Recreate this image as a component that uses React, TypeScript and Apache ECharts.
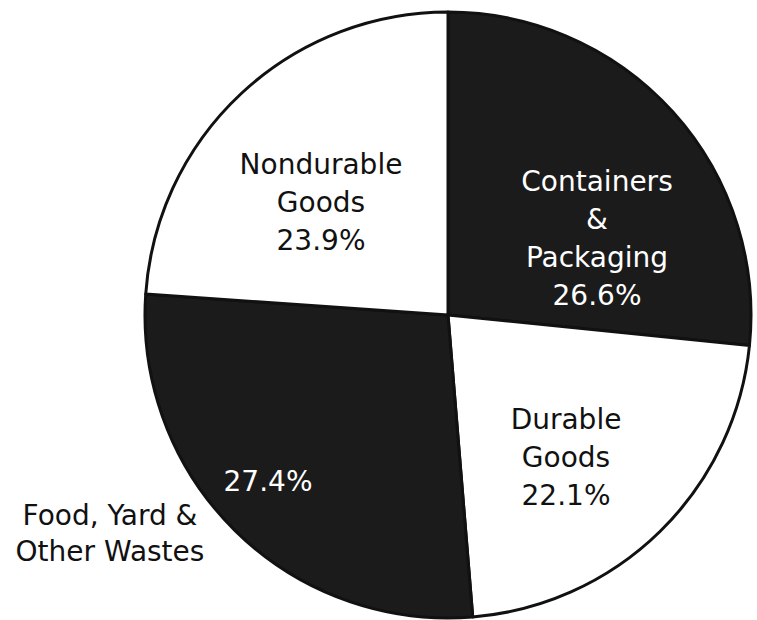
import React, { useEffect, useRef } from "react";
import * as echarts from "echarts";

const categories = [
  "Containers\n&\nPackaging",
  "Durable\nGoods",
  "Food, Yard &\nOther Wastes",
  "Nondurable\nGoods",
];
const values = [26.6, 22.1, 27.4, 23.9];
const sliceColors = ["#1b1b1b", "#ffffff", "#1b1b1b", "#ffffff"];
const labelColors = ["#ffffff", "#111111", "#ffffff", "#111111"];
// label anchor points (layout only)
const labelPos: [number, number][] = [
  [597, 238],
  [566, 457],
  [268, 481],
  [321, 202],
];
const outsideIndex = 2;

export default function App() {
  const ref = useRef<HTMLDivElement>(null);
  useEffect(() => {
    if (!ref.current) return;
    const chart = echarts.init(ref.current, null, { renderer: "svg" });
    const font = "'DejaVu Sans', 'Noto Sans', sans-serif";
    chart.setOption({
      animation: false,
      backgroundColor: "#ffffff",
      graphic: [
        {
          type: "text",
          x: 110,
          y: 533,
          style: {
            text: categories[outsideIndex],
            fill: "#111111",
            fontSize: 28,
            fontFamily: font,
            lineHeight: 36,
            align: "center",
            verticalAlign: "middle",
          },
        },
      ],
      series: [
        {
          type: "pie",
          center: [448, 315],
          radius: [0, 303],
          startAngle: 90,
          clockwise: true,
          avoidLabelOverlap: false,
          silent: true,
          itemStyle: { borderColor: "#111111", borderWidth: 3 },
          labelLine: { show: false },
          label: {
            show: true,
            position: "inside",
            fontFamily: font,
            fontSize: 28,
            lineHeight: 38,
            align: "center",
            formatter: (p: any) =>
              p.dataIndex === outsideIndex
                ? `${values[p.dataIndex].toFixed(1)}%`
                : `${categories[p.dataIndex]}\n${values[p.dataIndex].toFixed(1)}%`,
          },
          labelLayout: (p: any) => ({
            x: labelPos[p.dataIndex][0],
            y: labelPos[p.dataIndex][1],
            align: "center",
            verticalAlign: "middle",
          }),
          data: categories.map((name, i) => ({
            name,
            value: values[i],
            itemStyle: { color: sliceColors[i] },
            label: { color: labelColors[i] },
          })),
        },
      ],
    });
    return () => chart.dispose();
  }, []);
  return (
    <div
      ref={ref}
      style={{ position: "absolute", left: 0, top: 0, width: 757, height: 620 }}
    />
  );
}
